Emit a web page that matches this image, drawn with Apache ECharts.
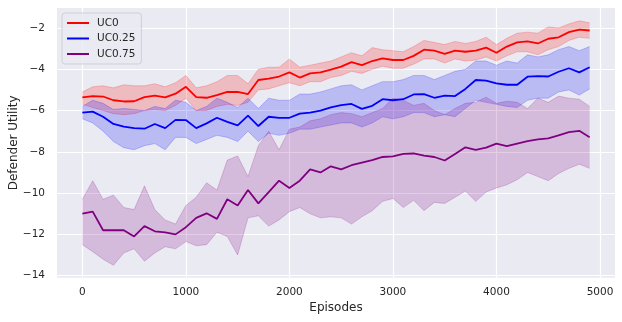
<!DOCTYPE html>
<html><head><meta charset="utf-8">
<script src="https://cdn.jsdelivr.net/npm/echarts@6/dist/echarts.min.js"></script>
<style>html,body{margin:0;padding:0;background:#fff}#c{width:622px;height:322px}</style>
</head><body><div id="c"></div>
<script>
const episodes = [0,100,200,300,400,500,600,700,800,900,1000,1100,1200,1300,1400,1500,1600,1700,1800,1900,2000,2100,2200,2300,2400,2500,2600,2700,2800,2900,3000,3100,3200,3300,3400,3500,3600,3700,3800,3900,4000,4100,4200,4300,4400,4500,4600,4700,4800,4900];
const seriesNames = ['UC0','UC0.25','UC0.75'];
const xTicks = [0,1000,2000,3000,4000,5000];
const yTicks = [-14,-12,-10,-8,-6,-4,-2];

const uc0Mean = [-5.36,-5.30,-5.32,-5.50,-5.56,-5.55,-5.35,-5.28,-5.36,-5.18,-4.85,-5.35,-5.38,-5.25,-5.10,-5.09,-5.20,-4.52,-4.45,-4.35,-4.15,-4.40,-4.20,-4.15,-4.02,-3.87,-3.65,-3.80,-3.60,-3.47,-3.55,-3.55,-3.35,-3.05,-3.10,-3.25,-3.10,-3.15,-3.10,-2.95,-3.20,-2.90,-2.70,-2.65,-2.75,-2.52,-2.45,-2.20,-2.08,-2.12];
const uc0Upper = [-5.10,-4.85,-4.80,-4.90,-4.75,-4.80,-4.80,-4.70,-4.85,-4.65,-4.30,-4.90,-4.80,-4.60,-4.30,-4.30,-4.70,-4.00,-3.90,-3.90,-3.50,-3.90,-3.80,-3.70,-3.60,-3.40,-3.20,-3.35,-2.95,-3.05,-3.10,-3.15,-2.90,-2.60,-2.70,-2.80,-2.65,-2.75,-2.65,-2.45,-2.80,-2.50,-2.25,-2.20,-2.25,-1.95,-2.00,-1.80,-1.65,-1.75];
const uc0Lower = [-5.70,-5.85,-6.00,-6.15,-6.20,-6.15,-6.00,-5.95,-6.00,-5.75,-5.40,-6.00,-6.00,-5.80,-5.70,-5.75,-5.60,-5.00,-4.95,-4.80,-4.65,-4.80,-4.60,-4.60,-4.40,-4.30,-4.10,-4.20,-4.00,-3.85,-3.95,-3.95,-3.75,-3.50,-3.50,-3.70,-3.50,-3.60,-3.55,-3.40,-3.60,-3.35,-3.15,-3.15,-3.30,-3.05,-2.90,-2.60,-2.45,-2.50];

const uc025Mean = [-6.10,-6.05,-6.30,-6.65,-6.78,-6.85,-6.88,-6.65,-6.85,-6.45,-6.46,-6.85,-6.62,-6.35,-6.55,-6.72,-6.25,-6.75,-6.30,-6.35,-6.35,-6.15,-6.10,-6.00,-5.85,-5.74,-5.68,-5.92,-5.77,-5.45,-5.50,-5.45,-5.22,-5.20,-5.38,-5.28,-5.30,-4.95,-4.52,-4.55,-4.68,-4.75,-4.75,-4.36,-4.33,-4.35,-4.12,-3.95,-4.15,-3.90];
const uc025Upper = [-5.80,-5.50,-5.65,-5.95,-5.90,-5.95,-6.00,-5.80,-5.90,-5.50,-5.60,-6.00,-5.80,-5.40,-5.60,-5.85,-5.40,-5.90,-5.40,-5.50,-5.50,-5.20,-5.20,-5.10,-4.95,-4.80,-4.75,-5.00,-4.80,-4.60,-4.60,-4.50,-4.30,-4.30,-4.50,-4.30,-4.10,-4.00,-3.60,-3.60,-3.80,-3.60,-3.70,-3.30,-3.40,-3.30,-3.05,-2.90,-3.10,-2.90];
const uc025Lower = [-6.40,-6.60,-7.00,-7.50,-7.80,-7.90,-7.70,-7.60,-7.90,-7.30,-7.30,-7.60,-7.40,-7.20,-7.30,-7.50,-7.00,-7.50,-7.10,-7.20,-7.10,-6.90,-6.90,-6.80,-6.70,-6.60,-6.60,-6.80,-6.60,-6.30,-6.40,-6.30,-6.10,-6.10,-6.30,-6.20,-6.30,-5.90,-5.50,-5.60,-5.70,-5.80,-5.85,-5.50,-5.40,-5.40,-5.10,-5.00,-5.25,-4.95];

const uc075Mean = [-11.00,-10.90,-11.80,-11.80,-11.80,-12.10,-11.60,-11.85,-11.90,-12.00,-11.65,-11.20,-10.98,-11.25,-10.30,-10.60,-9.85,-10.50,-9.95,-9.40,-9.75,-9.40,-8.85,-9.00,-8.70,-8.85,-8.65,-8.52,-8.40,-8.25,-8.22,-8.10,-8.08,-8.18,-8.25,-8.42,-8.10,-7.78,-7.90,-7.80,-7.60,-7.72,-7.60,-7.48,-7.40,-7.35,-7.20,-7.05,-6.98,-7.29];
const uc075Upper = [-10.30,-9.40,-10.30,-10.10,-10.70,-10.80,-9.65,-10.80,-11.30,-11.50,-10.60,-10.20,-9.50,-9.85,-8.40,-8.20,-9.20,-7.70,-7.00,-7.90,-6.90,-6.80,-6.50,-6.40,-6.20,-6.10,-6.15,-6.30,-6.10,-5.90,-5.40,-5.50,-5.75,-5.65,-6.00,-6.20,-5.90,-5.65,-5.60,-5.35,-5.65,-5.55,-5.60,-5.90,-5.40,-5.60,-5.30,-5.40,-5.45,-5.80];
const uc075Lower = [-12.50,-12.84,-13.20,-13.50,-12.90,-12.70,-13.30,-12.90,-12.60,-12.70,-12.35,-12.55,-12.50,-11.90,-12.10,-13.00,-11.20,-11.10,-11.60,-11.30,-10.90,-10.70,-11.00,-11.20,-11.15,-11.20,-11.50,-11.15,-10.85,-10.40,-10.26,-10.70,-10.35,-10.85,-10.45,-10.50,-10.20,-9.90,-10.40,-9.95,-9.75,-9.60,-9.35,-9.00,-9.20,-9.40,-9.05,-8.80,-8.60,-8.80];

const colors = ['#ff0000','#0000ff','#800080'];
const means = [uc0Mean, uc025Mean, uc075Mean];
const uppers = [uc0Upper, uc025Upper, uc075Upper];
const lowers = [uc0Lower, uc025Lower, uc075Lower];

function pairs(ys){ return episodes.map((x,i)=>[x, ys[i]]); }

function bandRenderer(upper, lower, color) {
  return function (params, api) {
    if (params.dataIndex !== 0) return null;
    const up = episodes.map((x,i)=>api.coord([x, upper[i]]));
    const lo = episodes.map((x,i)=>api.coord([x, lower[i]]));
    const poly = up.concat(lo.slice().reverse());
    return {
      type: 'group',
      children: [
        { type: 'polygon', shape: { points: poly }, style: { fill: color, opacity: 0.2 } },
        { type: 'polyline', shape: { points: up }, style: { stroke: color, fill: null, lineWidth: 1, opacity: 0.2 } },
        { type: 'polyline', shape: { points: lo }, style: { stroke: color, fill: null, lineWidth: 1, opacity: 0.2 } }
      ]
    };
  };
}

const series = [];
seriesNames.forEach((name, k) => {
  series.push({
    name: '_' + name + '_band', type: 'custom', silent: true, z: 1,
    data: pairs(means[k]),
    encode: { x: 0, y: 1 },
    renderItem: bandRenderer(uppers[k], lowers[k], colors[k])
  });
});
seriesNames.forEach((name, k) => {
  series.push({
    name: name, type: 'line', data: pairs(means[k]), symbol: 'none', z: 3, color: colors[k],
    lineStyle: { color: colors[k], width: 1.8 }
  });
});

const font = 'DejaVu Sans';
const chart = echarts.init(document.getElementById('c'), null, { renderer: 'canvas' });
chart.setOption({
  animation: false,
  backgroundColor: '#ffffff',
  grid: { left: 57, right: 7, top: 8, bottom: 44.3, show: true, backgroundColor: '#EAEAF2', borderWidth: 0,
    containLabel: false, outerBoundsMode: 'none' },
  legend: {
    data: seriesNames, left: 62, top: 13, orient: 'vertical', icon: 'rect',
    itemWidth: 22, itemHeight: 2, itemGap: 3.5, padding: [4, 6, 4, 5],
    borderColor: '#cfcfd6', borderWidth: 1, borderRadius: 3, backgroundColor: 'rgba(234,234,242,0.8)',
    textStyle: { fontSize: 10.5, color: '#262626', fontFamily: font, lineHeight: 12, padding: [0, 0, 0, 3] }
  },
  xAxis: {
    type: 'value', min: -245, max: 5145,
    axisLine: { show: false }, axisTick: { show: false, customValues: xTicks },
    axisLabel: { customValues: xTicks, color: '#262626', fontSize: 10.5, fontFamily: font, margin: 9,
      formatter: v => String(v) },
    splitLine: { show: true, lineStyle: { color: '#ffffff', width: 1.2 } },
    name: 'Episodes', nameLocation: 'middle', nameGap: 24, nameMoveOverlap: false,
    nameTextStyle: { fontSize: 12, color: '#262626', fontFamily: font }
  },
  yAxis: {
    type: 'value', min: -14.1, max: -1.03,
    axisLine: { show: false }, axisTick: { show: false, customValues: yTicks },
    axisLabel: { customValues: yTicks, color: '#262626', fontSize: 10.5, fontFamily: font, margin: 12,
      formatter: v => String(v).replace('-', '\u2212') },
    splitLine: { show: true, lineStyle: { color: '#ffffff', width: 1.2 } },
    name: 'Defender Utility', nameLocation: 'middle', nameGap: 37, nameRotate: 90, nameMoveOverlap: false,
    nameTextStyle: { fontSize: 12, color: '#262626', fontFamily: font }
  },
  series: series
});
</script></body></html>
